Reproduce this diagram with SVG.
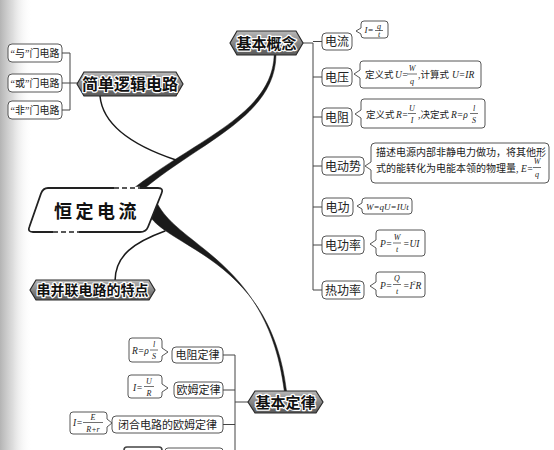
<svg xmlns="http://www.w3.org/2000/svg" width="554" height="450" viewBox="0 0 554 450">
<defs>
<linearGradient id="hexg" x1="0" y1="0" x2="0" y2="1">
<stop offset="0" stop-color="#b8b8b8"/>
<stop offset="0.45" stop-color="#8c8c8c"/>
<stop offset="1" stop-color="#585858"/>
</linearGradient>
<linearGradient id="band" x1="0" y1="0" x2="1" y2="0">
<stop offset="0" stop-color="#b4b4b4" stop-opacity="1"/>
<stop offset="0.4" stop-color="#d4d4d4" stop-opacity="0.8"/>
<stop offset="1" stop-color="#ffffff" stop-opacity="0"/>
</linearGradient>
<style>
.box{fill:#fff;stroke:#444;stroke-width:0.9}
.hex{fill:url(#hexg);stroke:#2a2a2a;stroke-width:1.2}
.ht{font-family:"Noto Sans CJK SC",sans-serif;font-weight:700;fill:#111;stroke:#fff;stroke-width:2.4;paint-order:stroke;stroke-linejoin:round;text-anchor:middle}
.lt{font-family:"Liberation Serif","Noto Sans CJK SC",serif;font-size:12px;fill:#222;text-anchor:middle}
.ct{font-family:"Liberation Serif","Noto Sans CJK SC",serif;font-size:9.5px;fill:#222}
.f{font-family:"Liberation Serif",serif;font-style:italic;font-size:9.5px;fill:#222}
.fs{font-family:"Liberation Serif",serif;font-style:italic;font-size:8px;fill:#222;text-anchor:middle}
.ln{stroke:#444;stroke-width:1;fill:none}
.fl{stroke:#333;stroke-width:0.7}
.br{fill:#1a1a1a;stroke:#1a1a1a;stroke-width:0.5}
.thin{fill:none;stroke:#1a1a1a;stroke-width:1.5;stroke-linecap:round}
</style>
</defs>
<rect x="0" y="0" width="554" height="450" fill="#fff"/>
<rect x="0" y="0" width="32" height="450" fill="url(#band)"/>

<g id="connectors">
<path class="br" d="M134 188C199 138 272 114 274.2 55L276 55C275 116 202 141 145 188Z"/>
<path class="thin" d="M100 96C103 128 140 148 176 160"/>
<path class="br" d="M157 203C180 248 268 262 284.3 391L286.5 391C271 264 177 250 151 218Z"/>
<path class="thin" d="M165 231C135 242 115 255 115 281"/>
<path class="ln" d="M62 53H70M62 83H78M62 110H70M70 53V110"/>
<path class="ln" d="M303 43H313M313 43V290M313 41.5H322M313 77H322M313 117H322M313 166H322M313 207H322M313 245H322M313 290H322"/>
<path class="ln" d="M235 402H248M235 355V450M223 355H235M223 390H235M223 424.5H235"/>
</g>

<g id="center">
<path d="M48 188H158Q164 188 161.5 193.5L148 227Q146 232 140 232H33Q27 232 29.5 226.5L41 193.5Q43 188 48 188Z" fill="#fff" stroke="#222" stroke-width="1.8"/>
<path d="M114 188H140M53 232H79" stroke="#fff" stroke-width="2.4"/>
<path d="M114 188H140M53 232H79" stroke="#222" stroke-width="1.6" stroke-dasharray="5 3"/>
<text x="54" y="218" font-family="Noto Sans CJK SC,sans-serif" font-weight="700" font-size="18" letter-spacing="3.5" fill="#111">恒定电流</text>
</g>

<g id="logic">
<path class="hex" d="M77 84L84 72H176L183 84L176 96H84Z"/>
<text class="ht" x="130" y="90" font-size="16">简单逻辑电路</text>
</g>
<g id="gate-and"><rect class="box" x="8" y="44" width="54" height="18" rx="4"/><text class="lt" x="35" y="57" style="font-size:10px">“与”门电路</text></g>
<g id="gate-or"><rect class="box" x="8" y="74" width="54" height="18" rx="4"/><text class="lt" x="35" y="87" style="font-size:10px">“或”门电路</text></g>
<g id="gate-not"><rect class="box" x="8" y="101" width="54" height="18" rx="4"/><text class="lt" x="35" y="114" style="font-size:10px">“非”门电路</text></g>

<g id="concepts">
<path class="hex" d="M230 43L237 31H296L303 43L296 55H237Z"/>
<text class="ht" x="266.5" y="48.5" font-size="15">基本概念</text>
</g>
<g id="current"><rect class="box" x="322" y="33" width="30" height="17" rx="4"/><text class="lt" x="337" y="46">电流</text></g>
<g id="current-f">
<path class="box" d="M364 21H385Q388 21 388 24V35Q388 38 385 38H364Q361 38 361 35V34L356 31L361 28V24Q361 21 364 21Z"/>
<text class="f" x="364.5" y="33" style="font-size:9px">I=</text>
<text class="fs" x="379" y="28.5">q</text><line class="fl" x1="375" y1="30.5" x2="383" y2="30.5"/><text class="fs" x="379" y="37">t</text>
</g>
<g id="voltage"><rect class="box" x="322" y="68" width="30" height="18" rx="4"/><text class="lt" x="337" y="81.5">电压</text></g>
<g id="voltage-f">
<path class="box" d="M363 61H478Q481 61 481 64V85Q481 88 478 88H363Q360 88 360 85V78L354 74L360 70V64Q360 61 363 61Z"/>
<text class="ct" x="365" y="78">定义式</text><text class="f" x="395" y="78">U=</text>
<text class="fs" x="412" y="71">W</text><line class="fl" x1="407" y1="74" x2="417" y2="74"/><text class="fs" x="412" y="83.5">q</text>
<text class="ct" x="418" y="78">,计算式</text><text class="f" x="452" y="78">U=IR</text>
</g>
<g id="resistance"><rect class="box" x="322" y="108" width="30" height="18" rx="4"/><text class="lt" x="337" y="121.5">电阻</text></g>
<g id="resistance-f">
<path class="box" d="M364 99H482Q485 99 485 102V125Q485 128 482 128H364Q361 128 361 125V118L355 114L361 110V102Q361 99 364 99Z"/>
<text class="ct" x="366" y="117.5">定义式</text><text class="f" x="396" y="117.5">R=</text>
<text class="fs" x="412" y="110.5">U</text><line class="fl" x1="408" y1="113.5" x2="416" y2="113.5"/><text class="fs" x="412" y="123">I</text>
<text class="ct" x="418" y="117.5">,决定式</text><text class="f" x="451" y="117.5">R=ρ</text>
<text class="fs" x="474" y="110.5">l</text><line class="fl" x1="470" y1="113.5" x2="478" y2="113.5"/><text class="fs" x="474" y="123">S</text>
</g>
<g id="emf"><rect class="box" x="322" y="157" width="42" height="18" rx="4"/><text class="lt" x="343" y="170.5">电动势</text></g>
<g id="emf-f">
<path class="box" d="M375 143H545Q549 143 549 147V179Q549 183 545 183H375Q371 183 371 179V170L365 166L371 162V147Q371 143 375 143Z"/>
<text class="ct" x="376" y="156" style="font-size:10px">描述电源内部非静电力做功，将其他形</text>
<text class="ct" x="376" y="172" style="font-size:10px">式的能转化为电能本领的物理量,</text>
<text class="f" x="521" y="172">E=</text>
<text class="fs" x="537" y="164">W</text><line class="fl" x1="533" y1="167.5" x2="541" y2="167.5"/><text class="fs" x="537" y="177">q</text>
</g>
<g id="work"><rect class="box" x="322" y="198" width="31" height="18" rx="4"/><text class="lt" x="337.5" y="211.5">电功</text></g>
<g id="work-f">
<path class="box" d="M365 198H409Q412 198 412 201V211Q412 214 409 214H365Q362 214 362 211V209L357 206L362 203V201Q362 198 365 198Z"/>
<text class="f" x="366" y="209.5" style="font-size:9px">W=qU=IUt</text>
</g>
<g id="power"><rect class="box" x="322" y="236" width="42" height="18" rx="4"/><text class="lt" x="343" y="249.5">电功率</text></g>
<g id="power-f">
<path class="box" d="M379 230H422Q425 230 425 233V253Q425 256 422 256H379Q376 256 376 253V248L370 244L376 240V233Q376 230 379 230Z"/>
<text class="f" x="380" y="246.5">P=</text>
<text class="fs" x="397" y="239.5">W</text><line class="fl" x1="393" y1="243" x2="401" y2="243"/><text class="fs" x="397" y="252">t</text>
<text class="f" x="403" y="246.5">=UI</text>
</g>
<g id="heat"><rect class="box" x="322" y="281" width="42" height="18" rx="4"/><text class="lt" x="343" y="294.5">热功率</text></g>
<g id="heat-f">
<path class="box" d="M379 272H422Q425 272 425 275V294Q425 297 422 297H379Q376 297 376 294V290L370 286L376 282V275Q376 272 379 272Z"/>
<text class="f" x="380" y="288.5">P=</text>
<text class="fs" x="397" y="281">Q</text><line class="fl" x1="393" y1="284.5" x2="401" y2="284.5"/><text class="fs" x="397" y="293.5">t</text>
<text class="f" x="403" y="288.5">=I<tspan font-size="6" dy="-3.5">2</tspan><tspan dy="3.5">R</tspan></text>
</g>

<g id="series">
<path class="hex" d="M30 290L36 280H149L155 290L149 300H36Z"/>
<text class="ht" x="92.5" y="295" font-size="14">串并联电路的特点</text>
</g>

<g id="laws">
<path class="hex" d="M248 402L255 391H316L323 402L316 413H255Z"/>
<text class="ht" x="285.5" y="407.5" font-size="15">基本定律</text>
</g>
<g id="res-law"><rect class="box" x="172" y="347" width="51" height="16" rx="4"/><text class="lt" x="197.5" y="359" style="font-size:11px">电阻定律</text></g>
<g id="res-law-f">
<path class="box" d="M132 338H159Q162 338 162 341V348L168 352L162 356V359Q162 362 159 362H132Q129 362 129 359V341Q129 338 132 338Z"/>
<text class="f" x="132" y="354">R=ρ</text>
<text class="fs" x="154" y="347">l</text><line class="fl" x1="150" y1="350" x2="158" y2="350"/><text class="fs" x="154" y="359">S</text>
</g>
<g id="ohm"><rect class="box" x="174" y="382" width="49" height="16" rx="4"/><text class="lt" x="198.5" y="394" style="font-size:11px">欧姆定律</text></g>
<g id="ohm-f">
<path class="box" d="M131 375H159Q162 375 162 378V384L168 388L162 392V395Q162 398 159 398H131Q128 398 128 395V378Q128 375 131 375Z"/>
<text class="f" x="133" y="390.5">I=</text>
<text class="fs" x="149" y="384">U</text><line class="fl" x1="144" y1="386.5" x2="154" y2="386.5"/><text class="fs" x="149" y="395.5">R</text>
</g>
<g id="closed-ohm"><rect class="box" x="112" y="416" width="111" height="17" rx="4"/><text class="lt" x="167.5" y="428.5" style="font-size:11px">闭合电路的欧姆定律</text></g>
<g id="closed-ohm-f">
<path class="box" d="M73 412H104Q107 412 107 415V419L112 423L107 427V431Q107 434 104 434H73Q70 434 70 431V415Q70 412 73 412Z"/>
<text class="f" x="73" y="425.5">I=</text>
<text class="fs" x="93" y="420">E</text><line class="fl" x1="83" y1="422.5" x2="103" y2="422.5"/><text class="fs" x="93" y="431.5">R+r</text>
</g>
<g id="next-law">
<rect class="box" x="124" y="447" width="38" height="20" rx="3" style="stroke-width:1.6"/>
<rect class="box" x="165" y="448" width="58" height="20" rx="3"/>
</g>
</svg>
